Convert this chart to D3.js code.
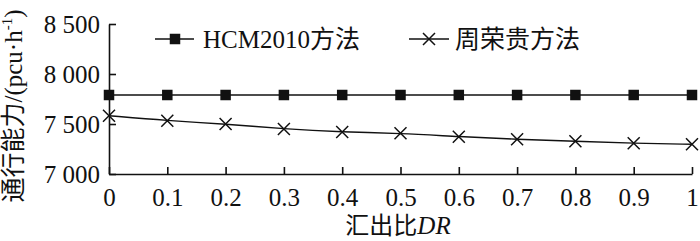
<!DOCTYPE html>
<html><head><meta charset="utf-8">
<script src="https://cdn.jsdelivr.net/npm/d3@7"></script>
<style>
body{margin:0;background:#fff;}
svg text{font-family:"Liberation Serif","Noto Sans CJK SC",serif;fill:#111;}
</style></head>
<body><svg id="c" width="700" height="241"></svg>
<script>
const drValues = [0,0.1,0.2,0.3,0.4,0.5,0.6,0.7,0.8,0.9,1];
const hcmValues = [7790,7790,7790,7790,7790,7790,7790,7790,7790,7790,7790];
const zhouValues = [7583,7533,7500,7450,7420,7407,7373,7347,7327,7307,7297];
const seriesNames = ["HCM2010方法","周荣贵方法"];
const yTicks = [7000,7500,8000,8500];
const xTicks = [0,0.1,0.2,0.3,0.4,0.5,0.6,0.7,0.8,0.9,1];

const svg = d3.select("#c");
const m = {l:109, r:8, t:24, b:67};
const W = 700, H = 241;
const x = d3.scaleLinear().domain([0,1]).range([m.l, W-m.r]);
const y = d3.scaleLinear().domain([7000,8500]).range([H-m.b, m.t]);
const fs = 25;
const fmt = v => { const s = String(v); return s.slice(0,1)+" "+s.slice(1); };

// axes
const xa = svg.append("g").attr("transform",`translate(0,${y(7000)})`)
  .call(d3.axisBottom(x).tickValues(xTicks).tickSizeInner(-7).tickSizeOuter(0).tickPadding(14).tickFormat(d=>d===0||d===1?String(d):d3.format(".1f")(d)));
const ya = svg.append("g").attr("transform",`translate(${x(0)},0)`)
  .call(d3.axisLeft(y).tickValues(yTicks).tickSizeInner(-7).tickSizeOuter(0).tickPadding(9).tickFormat(fmt));
[xa,ya].forEach(a=>{
  a.select(".domain").attr("stroke","#111").attr("stroke-width",1.6);
  a.selectAll(".tick line").attr("stroke","#111").attr("stroke-width",1.6);
  a.selectAll(".tick text").attr("font-size",fs).attr("fill","#111")
   .style("font-family",'"Liberation Serif",serif');
});
xa.selectAll(".tick text").attr("dy","0.71em");
ya.selectAll(".tick text").attr("dy","0.34em");

// lines
const lineH = d3.line().x((d,i)=>x(drValues[i])).y(d=>y(d));
const lineZ = d3.line().x((d,i)=>x(drValues[i])).y(d=>y(d)).curve(d3.curveBasis);
svg.append("path").datum(hcmValues).attr("d",lineH).attr("fill","none").attr("stroke","#111").attr("stroke-width",1.6);
svg.append("path").datum(zhouValues).attr("d",lineZ).attr("fill","none").attr("stroke","#111").attr("stroke-width",1.4);

const sq = 10.5, xs = 6;
function square(g, cx, cy){ g.append("rect").attr("x",cx-sq/2).attr("y",cy-sq/2).attr("width",sq).attr("height",sq).attr("fill","#111"); }
function cross(g, cx, cy){
  g.append("path").attr("d",`M${cx-xs},${cy-xs}L${cx+xs},${cy+xs}M${cx-xs},${cy+xs}L${cx+xs},${cy-xs}`)
   .attr("stroke","#111").attr("stroke-width",1.5).attr("fill","none");
}
hcmValues.forEach((v,i)=>square(svg, x(drValues[i]), y(v)));
zhouValues.forEach((v,i)=>cross(svg, x(drValues[i]), y(v)));

// legend
const lg = svg.append("g");
lg.append("line").attr("x1",155).attr("x2",194).attr("y1",39).attr("y2",39).attr("stroke","#111").attr("stroke-width",1.6);
square(lg,175,39);
lg.append("text").attr("x",203).attr("y",48).attr("font-size",fs).text(seriesNames[0]);
lg.append("line").attr("x1",409).attr("x2",449).attr("y1",39).attr("y2",39).attr("stroke","#111").attr("stroke-width",1.6);
cross(lg,429,39);
lg.append("text").attr("x",455).attr("y",48).attr("font-size",fs).text(seriesNames[1]);

// axis titles
const xt = svg.append("text").attr("x",398).attr("y",234).attr("font-size",24).attr("text-anchor","middle");
xt.append("tspan").text("汇出比");
xt.append("tspan").attr("font-style","italic").attr("font-size",25).style("font-family",'"Liberation Serif",serif').text("DR");

const yt = svg.append("text").attr("transform","translate(22,106) rotate(-90)").attr("font-size",fs).attr("text-anchor","middle");
yt.append("tspan").text("通行能力/(pcu·h");
yt.append("tspan").attr("font-size",15).attr("dy",-10).text("-1");
yt.append("tspan").attr("dy",10).text(")");
</script></body></html>
